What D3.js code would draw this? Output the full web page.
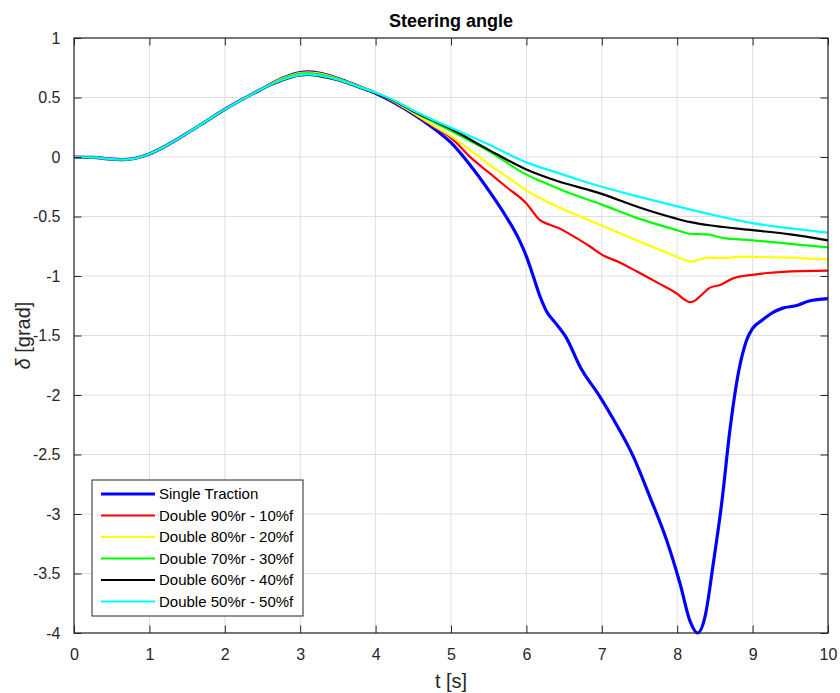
<!DOCTYPE html>
<html>
<head>
<meta charset="utf-8">
<script src="https://cdn.jsdelivr.net/npm/d3@7"></script>
<style>
  html, body { margin: 0; padding: 0; background: #ffffff; }
  svg { display: block; font-family: "Liberation Sans", Arial, sans-serif; }
</style>
</head>
<body>
<svg id="chart" width="840" height="693"></svg>
<script>
// Shared start of every run (vehicle behaves identically up to ~2.5 s)
const tStart = [0, 0.25, 0.5, 0.65, 0.8, 1.0, 1.25, 1.5, 1.75, 2.0, 2.25, 2.5];
const dStart = [0, -0.003, -0.018, -0.022, -0.013, 0.025, 0.105, 0.2, 0.3, 0.4, 0.49, 0.575];

// Single traction
const tSingle = [2.75, 3.0, 3.1, 3.25, 3.5, 3.75, 4.0, 4.25, 4.5, 4.75, 5.0, 5.25, 5.5, 5.73, 5.9, 6.0, 6.09, 6.18, 6.27, 6.38, 6.53, 6.71, 6.97, 7.15, 7.42, 7.64, 7.86, 8.04, 8.17, 8.27, 8.37, 8.48, 8.59, 8.7, 8.81, 8.92, 9.0, 9.13, 9.26, 9.4, 9.57, 9.75, 10.0];
const dSingle = [0.658, 0.71, 0.715, 0.705, 0.66, 0.6, 0.535, 0.455, 0.36, 0.25, 0.12, -0.065, -0.28, -0.5, -0.69, -0.835, -1.0, -1.17, -1.3, -1.39, -1.52, -1.76, -2.01, -2.2, -2.52, -2.86, -3.22, -3.59, -3.9, -4.0, -3.86, -3.41, -2.91, -2.29, -1.82, -1.54, -1.44, -1.37, -1.31, -1.27, -1.25, -1.21, -1.19];

// Double traction 90% rear - 10% front
const t90 = [2.75, 3.0, 3.1, 3.25, 3.5, 3.75, 4.0, 4.25, 4.5, 4.75, 5.0, 5.29, 5.5, 5.73, 6.0, 6.18, 6.31, 6.44, 6.58, 6.84, 7.0, 7.25, 7.46, 7.75, 8.0, 8.1, 8.17, 8.25, 8.32, 8.43, 8.57, 8.74, 9.0, 9.2, 9.4, 10.0];
const d90 = [0.658, 0.708, 0.713, 0.703, 0.66, 0.6, 0.54, 0.46, 0.365, 0.265, 0.16, -0.02, -0.13, -0.25, -0.39, -0.53, -0.57, -0.6, -0.65, -0.75, -0.82, -0.89, -0.96, -1.06, -1.15, -1.2, -1.22, -1.2, -1.16, -1.1, -1.075, -1.02, -0.99, -0.975, -0.965, -0.955];

// Double traction 80% rear - 20% front
const t80 = [2.75, 3.0, 3.1, 3.25, 3.5, 3.75, 4.0, 4.25, 4.5, 4.75, 5.0, 5.25, 5.5, 5.75, 6.0, 6.18, 6.35, 6.58, 7.0, 7.46, 8.0, 8.1, 8.18, 8.3, 8.4, 8.6, 8.8, 9.0, 9.5, 10.0];
const d80 = [0.655, 0.705, 0.71, 0.7, 0.658, 0.6, 0.54, 0.465, 0.37, 0.27, 0.175, 0.06, -0.06, -0.17, -0.28, -0.345, -0.4, -0.465, -0.575, -0.7, -0.84, -0.865, -0.88, -0.86, -0.845, -0.85, -0.84, -0.84, -0.845, -0.86];

// Double traction 70% rear - 30% front
const t70 = [2.75, 3.0, 3.1, 3.25, 3.5, 3.75, 4.0, 4.25, 4.5, 4.75, 5.0, 5.5, 6.0, 6.18, 6.5, 7.0, 7.5, 8.0, 8.16, 8.4, 8.6, 9.0, 9.5, 10.0];
const d70 = [0.652, 0.7, 0.705, 0.695, 0.655, 0.598, 0.54, 0.47, 0.38, 0.3, 0.22, 0.05, -0.148, -0.2, -0.285, -0.4, -0.52, -0.615, -0.645, -0.65, -0.68, -0.7, -0.73, -0.76];

// Double traction 60% rear - 40% front
const t60 = [2.75, 3.0, 3.1, 3.25, 3.5, 3.75, 4.0, 4.25, 4.5, 4.75, 5.0, 5.5, 6.0, 6.4, 7.0, 7.5, 8.0, 8.16, 8.5, 9.0, 9.5, 10.0];
const d60 = [0.64, 0.685, 0.69, 0.68, 0.645, 0.59, 0.535, 0.47, 0.385, 0.31, 0.235, 0.06, -0.105, -0.2, -0.31, -0.425, -0.52, -0.545, -0.58, -0.615, -0.65, -0.7];

// Double traction 50% rear - 50% front
const t50 = [2.75, 3.0, 3.1, 3.25, 3.5, 3.75, 4.0, 4.25, 4.5, 4.75, 5.0, 5.5, 6.0, 6.5, 6.71, 7.0, 7.5, 8.0, 8.5, 9.0, 9.5, 10.0];
const d50 = [0.645, 0.69, 0.695, 0.685, 0.65, 0.595, 0.54, 0.475, 0.39, 0.315, 0.245, 0.105, -0.045, -0.15, -0.195, -0.25, -0.335, -0.415, -0.49, -0.555, -0.6, -0.635];

const seriesLabels = ["Single Traction", "Double 90%r - 10%f", "Double 80%r - 20%f", "Double 70%r - 30%f", "Double 60%r - 40%f", "Double 50%r - 50%f"];
const seriesTimes = [tSingle, t90, t80, t70, t60, t50];
const seriesValues = [dSingle, d90, d80, d70, d60, d50];
const seriesColors = ["#0000ff", "#ff0000", "#ffff00", "#00ff00", "#000000", "#00ffff"];
const seriesWidths = [3.2, 2.2, 2.2, 2.2, 2.2, 2.2];

const xTicks = [0, 1, 2, 3, 4, 5, 6, 7, 8, 9, 10];
const yTicks = [-4, -3.5, -3, -2.5, -2, -1.5, -1, -0.5, 0, 0.5, 1];

const svg = d3.select("#chart");
const plot = { left: 74, top: 38, right: 828, bottom: 633 };
const axisColor = "#262626";
const gridColor = "#dfdfdf";
const tickLen = 7.5;

const x = d3.scaleLinear().domain([0, 10]).range([plot.left, plot.right]);
const y = d3.scaleLinear().domain([-4, 1]).range([plot.bottom, plot.top]);

// background grid
const grid = svg.append("g");
grid.selectAll("line.gx").data(xTicks).join("line")
  .attr("x1", d => x(d)).attr("x2", d => x(d))
  .attr("y1", plot.top).attr("y2", plot.bottom)
  .attr("stroke", gridColor).attr("stroke-width", 1);
grid.selectAll("line.gy").data(yTicks).join("line")
  .attr("x1", plot.left).attr("x2", plot.right)
  .attr("y1", d => y(d)).attr("y2", d => y(d))
  .attr("stroke", gridColor).attr("stroke-width", 1);

// curves
const line = d3.line()
  .x(d => x(d[0]))
  .y(d => y(d[1]))
  .curve(d3.curveMonotoneX);

const curves = svg.append("g");
seriesLabels.forEach((name, i) => {
  const pts = tStart.map((t, k) => [t, dStart[k]])
    .concat(seriesTimes[i].map((t, k) => [t, seriesValues[i][k]]));
  curves.append("path")
    .datum(pts)
    .attr("fill", "none")
    .attr("stroke", seriesColors[i])
    .attr("stroke-width", seriesWidths[i])
    .attr("stroke-linejoin", "round")
    .attr("d", line);
});

// axes with inward ticks on all four sides (plain hyphen for negatives)
const fmt = d => String(d);
const xAxisB = d3.axisBottom(x).tickValues(xTicks).tickSize(-tickLen).tickPadding(tickLen + 8).tickFormat(fmt);
const xAxisT = d3.axisTop(x).tickValues(xTicks).tickSize(-tickLen).tickFormat("");
const yAxisL = d3.axisLeft(y).tickValues(yTicks).tickSize(-tickLen).tickPadding(tickLen + 6).tickFormat(fmt);
const yAxisR = d3.axisRight(y).tickValues(yTicks).tickSize(-tickLen).tickFormat("");

function styleAxis(g) {
  g.select(".domain").attr("stroke", axisColor).attr("stroke-width", 1.2);
  g.selectAll(".tick line").attr("stroke", axisColor).attr("stroke-width", 1);
  g.selectAll(".tick text").attr("fill", axisColor).attr("font-size", 16)
    .attr("font-family", "'Liberation Sans', Arial, sans-serif");
}

svg.append("g").attr("transform", `translate(0,${plot.bottom})`).call(xAxisB).call(styleAxis);
svg.append("g").attr("transform", `translate(0,${plot.top})`).call(xAxisT).call(styleAxis);
svg.append("g").attr("transform", `translate(${plot.left},0)`).call(yAxisL).call(styleAxis);
svg.append("g").attr("transform", `translate(${plot.right},0)`).call(yAxisR).call(styleAxis);

svg.selectAll(".domain").attr("d", null);
svg.append("rect")
  .attr("x", plot.left).attr("y", plot.top)
  .attr("width", plot.right - plot.left).attr("height", plot.bottom - plot.top)
  .attr("fill", "none").attr("stroke", axisColor).attr("stroke-width", 1.2);

// title and axis labels
svg.append("text")
  .attr("x", (plot.left + plot.right) / 2).attr("y", 27)
  .attr("text-anchor", "middle").attr("font-size", 18).attr("font-weight", "bold")
  .attr("fill", "#000").text("Steering angle");

svg.append("text")
  .attr("x", (plot.left + plot.right) / 2).attr("y", 688)
  .attr("text-anchor", "middle").attr("font-size", 20)
  .attr("fill", axisColor).text("t [s]");

const yl = svg.append("text")
  .attr("transform", `translate(30,${(plot.top + plot.bottom) / 2}) rotate(-90)`)
  .attr("text-anchor", "middle").attr("font-size", 20)
  .attr("fill", axisColor);
yl.append("tspan").attr("font-style", "italic").text("δ");
yl.append("tspan").text(" [grad]");

// legend
const leg = { x: 92, y: 480, w: 211, h: 136, row: 21.5, first: 494 };
const legend = svg.append("g");
legend.append("rect")
  .attr("x", leg.x).attr("y", leg.y).attr("width", leg.w).attr("height", leg.h)
  .attr("fill", "#ffffff").attr("stroke", axisColor).attr("stroke-width", 1);
seriesLabels.forEach((name, i) => {
  const cy = leg.first + i * leg.row;
  legend.append("line")
    .attr("x1", leg.x + 9).attr("x2", leg.x + 63)
    .attr("y1", cy).attr("y2", cy)
    .attr("stroke", seriesColors[i]).attr("stroke-width", seriesWidths[i]);
  legend.append("text")
    .attr("x", leg.x + 67).attr("y", cy)
    .attr("dy", "0.35em").attr("font-size", 15)
    .attr("fill", "#000").text(name);
});
</script>
</body>
</html>
